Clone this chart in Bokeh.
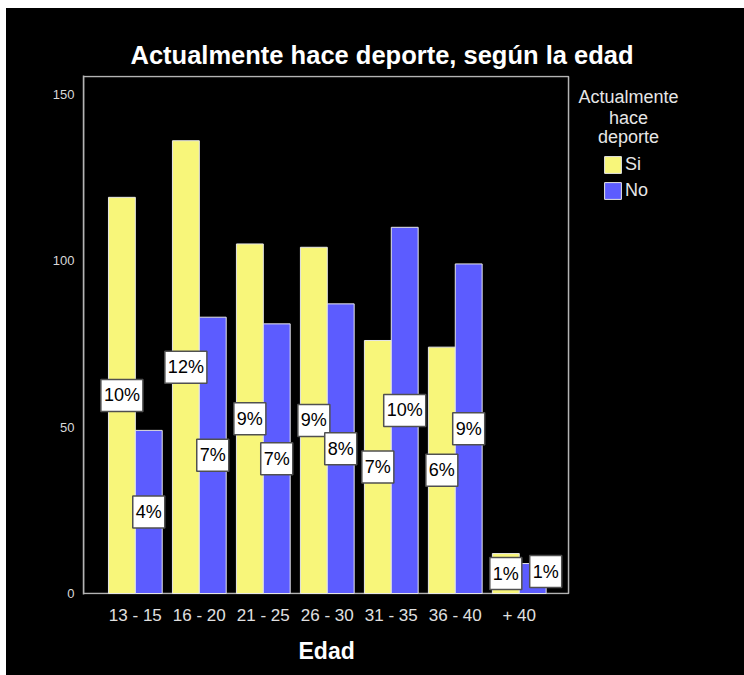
from bokeh.plotting import figure
from bokeh.models import (ColumnDataSource, Range1d, FixedTicker, Label,
                          Legend, LegendItem, Title)
from bokeh.transform import dodge
from bokeh.embed import file_html
from bokeh.resources import INLINE

categories = ["13 - 15", "16 - 20", "21 - 25", "26 - 30", "31 - 35", "36 - 40", "+ 40"]
si_values = [119, 136, 105, 104, 76, 74, 12]
no_values = [49, 83, 81, 87, 110, 99, 9]
si_pct = ["10%", "12%", "9%", "9%", "7%", "6%", "1%"]
no_pct = ["4%", "7%", "7%", "8%", "10%", "9%", "1%"]
y_ticks = [0, 50, 100, 150]

FONT = "Liberation Sans"
YELLOW = "#F8F67A"
BLUE = "#5C5CFF"
GRAY = "#b4b4b4"
SHIFT = 0.21
X_LO, X_BOX, X_HI = -0.81, 6.77, 9.52     # frame spans legend area too
Y_LO, Y_BOX, Y_HI = -0.3, 155.3, 155.6

idx = list(range(len(categories)))
src = ColumnDataSource(dict(x=idx, si=si_values, no=no_values))

p = figure(width=738, height=667, output_backend="svg", toolbar_location=None,
           x_range=Range1d(X_LO, X_HI), y_range=Range1d(Y_LO, Y_HI),
           outline_line_color=None,
           min_border_left=77, min_border_right=0, min_border_top=67, min_border_bottom=81)
p.background_fill_color = "black"
p.border_fill_color = "black"
p.styles = {"background-color": "black", "margin-top": "8px", "margin-left": "6px"}
p.outline_line_alpha = 0
p.grid.visible = False

# plot box (top, right, bottom edges)
p.quad(left=X_LO, right=X_BOX, bottom=0, top=Y_BOX, fill_color=None,
       line_color=GRAY, line_width=1.5)

r_si = p.vbar(x=dodge("x", -SHIFT), top="si", width=0.42, source=src,
              fill_color=YELLOW, line_color="#e6e6e6", line_width=1)
r_no = p.vbar(x=dodge("x", SHIFT), top="no", width=0.42, source=src,
              fill_color=BLUE, line_color="#e6e6e6", line_width=1)

lab_kw = dict(text_align="center", text_baseline="middle",
              text_font=FONT, text_font_size="18px", text_color="black",
              background_fill_color="white", border_line_color="#505050",
              border_line_width=1.5, padding=dict(left=3, right=3, top=6, bottom=6))
for i in idx:
    p.add_layout(Label(x=i - SHIFT, y=si_values[i] / 2, text=si_pct[i], **lab_kw))
    last = (i == idx[-1])
    p.add_layout(Label(x=i + SHIFT, y=no_values[i] / 2, text=no_pct[i],
                       x_offset=13 if last else 0, y_offset=7 if last else 0, **lab_kw))

p.xaxis.ticker = FixedTicker(ticks=idx)
p.xaxis.major_label_overrides = {i: c for i, c in enumerate(categories)}
p.xaxis.major_label_text_font = FONT
p.xaxis.major_label_text_font_size = "17px"
p.xaxis.major_label_text_color = "#e0e0e0"
p.xaxis.major_label_standoff = 11
p.xaxis.axis_line_color = None
p.xaxis.axis_line_alpha = 0
p.yaxis.ticker = FixedTicker(ticks=y_ticks)
p.yaxis.major_label_text_font = FONT
p.yaxis.major_label_text_font_size = "13px"
p.yaxis.major_label_text_color = "#d8d8d8"
p.yaxis.major_label_standoff = 9
p.yaxis.axis_line_color = GRAY
p.yaxis.axis_line_width = 1.5
for ax in (p.xaxis, p.yaxis):
    ax.major_tick_out = 0
    ax.major_tick_in = 0
    ax.minor_tick_out = 0
    ax.minor_tick_in = 0

p.add_layout(Title(text="Actualmente hace deporte, según la edad", align="left",
                   offset=47, standoff=14, text_font=FONT, text_font_style="bold",
                   text_font_size="25.5px", text_color="white"), "above")
p.add_layout(Title(text="Edad", align="left", offset=215, standoff=16,
                   text_font=FONT, text_font_style="bold",
                   text_font_size="23px", text_color="white"), "below")

for txt, yy in (("Actualmente", 498), ("hace", 477), ("deporte", 458)):
    p.add_layout(Label(x=545, y=yy, x_units="screen", y_units="screen", text=txt,
                       text_align="center", text_baseline="alphabetic", text_font=FONT,
                       text_font_size="18px", text_color="#e6e6e6"))

legend = Legend(items=[LegendItem(label="Si", renderers=[r_si]),
                       LegendItem(label="No", renderers=[r_no])],
                location=(519, 393), orientation="vertical",
                glyph_width=21, glyph_height=21, spacing=5, padding=0, margin=0,
                label_standoff=2, label_text_font=FONT, label_text_font_size="18px",
                label_text_color="#e6e6e6", label_height=17,
                background_fill_alpha=0, border_line_alpha=0)
p.add_layout(legend)

open("out.html", "w").write(file_html(p, INLINE))
